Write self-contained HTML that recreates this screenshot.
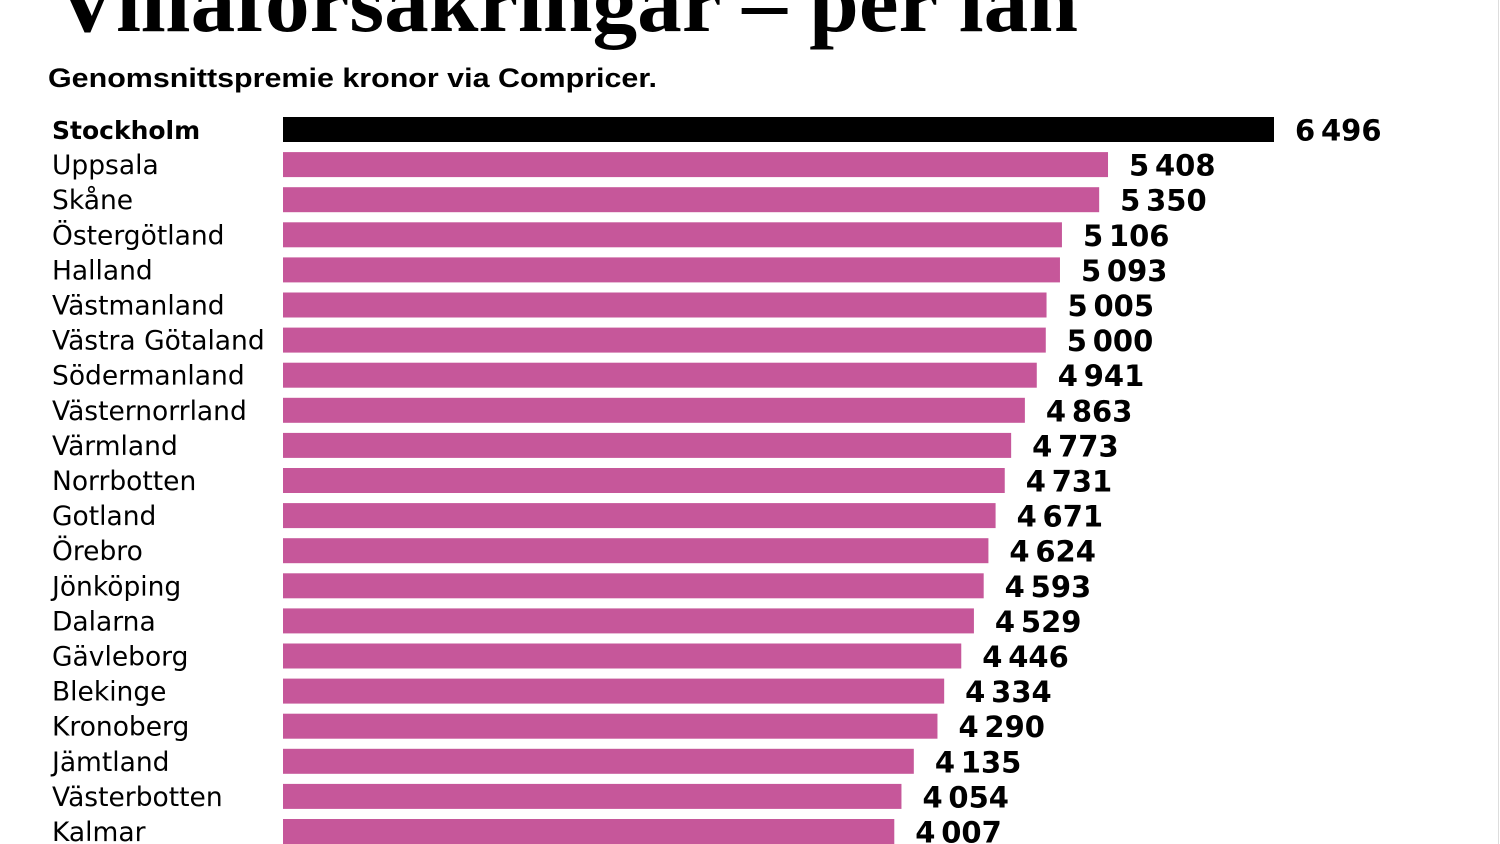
<!DOCTYPE html>
<html><head><meta charset="utf-8">
<style>
html,body{margin:0;padding:0;background:#fff;width:1500px;height:844px;overflow:hidden}
svg{display:block}
</style></head>
<body>
<svg id="chart" width="1500" height="844" xmlns="http://www.w3.org/2000/svg">
<line x1="1498.5" y1="0" x2="1498.5" y2="844" stroke="#ddd" stroke-width="1"/>
<text x="55" y="31" font-family="Liberation Serif, serif" font-weight="bold" font-size="86" textLength="1023" lengthAdjust="spacingAndGlyphs" fill="#000">Villaförsäkringar – per län</text>
<text x="48" y="87" font-family="Liberation Sans, sans-serif" font-weight="bold" font-size="27" textLength="609" lengthAdjust="spacingAndGlyphs" fill="#000">Genomsnittspremie kronor via Compricer.</text>
<g id="bars"></g>
</svg>
<script>
const categories = ["Stockholm","Uppsala","Skåne","Östergötland","Halland","Västmanland","Västra Götaland","Södermanland","Västernorrland","Värmland","Norrbotten","Gotland","Örebro","Jönköping","Dalarna","Gävleborg","Blekinge","Kronoberg","Jämtland","Västerbotten","Kalmar"];
const values = [6496,5408,5350,5106,5093,5005,5000,4941,4863,4773,4731,4671,4624,4593,4529,4446,4334,4290,4135,4054,4007];
const highlight = ["Stockholm"];

const x0 = 283, pxPerUnit = 991/6496;
const xScale = v => x0 + v * pxPerUnit;
const yCenter = i => 129.5 + i * 35.1;
const barH = 25;
const fmt = v => String(v).replace(/\B(?=(\d{3})+(?!\d))/g, "\u2009");
const g = document.getElementById("bars");
const NS = "http://www.w3.org/2000/svg";
categories.forEach((c, i) => {
  const hl = highlight.includes(c);
  const yc = yCenter(i);
  const lab = document.createElementNS(NS, "text");
  lab.setAttribute("x", 52);
  lab.setAttribute("y", yc + 9.5);
  lab.setAttribute("font-family", "DejaVu Sans, Liberation Sans, sans-serif");
  lab.setAttribute("font-size", hl ? 25 : 26.5);
  if (hl) lab.setAttribute("font-weight", "bold");
  lab.textContent = c;
  
  
  g.appendChild(lab);
  const r = document.createElementNS(NS, "rect");
  r.setAttribute("x", x0);
  r.setAttribute("y", yc - barH/2);
  r.setAttribute("width", xScale(values[i]) - x0);
  r.setAttribute("height", barH);
  r.setAttribute("fill", hl ? "#000" : "#c6579a");
  
  
  g.appendChild(r);
  const v = document.createElementNS(NS, "text");
  v.setAttribute("x", xScale(values[i]) + 21);
  v.setAttribute("y", yc + 11);
  v.setAttribute("font-family", "DejaVu Sans, Liberation Sans, sans-serif");
  v.setAttribute("font-weight", "bold");
  v.setAttribute("font-size", 29);
  v.textContent = fmt(values[i]);
  
  
  g.appendChild(v);
});
</script>
</body></html>
